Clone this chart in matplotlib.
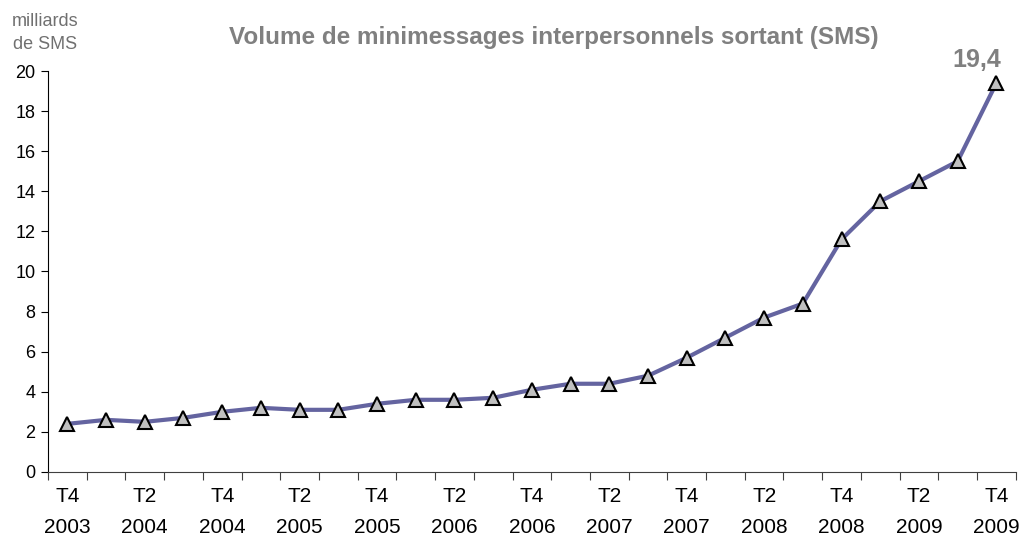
import matplotlib.pyplot as plt
import numpy as np

plt.rcParams['font.family'] = ['Liberation Sans', 'DejaVu Sans']

# quarters T4 2003 .. T4 2009
quarters = ['T4\n2003', 'T1\n2004', 'T2\n2004', 'T3\n2004', 'T4\n2004',
            'T1\n2005', 'T2\n2005', 'T3\n2005', 'T4\n2005',
            'T1\n2006', 'T2\n2006', 'T3\n2006', 'T4\n2006',
            'T1\n2007', 'T2\n2007', 'T3\n2007', 'T4\n2007',
            'T1\n2008', 'T2\n2008', 'T3\n2008', 'T4\n2008',
            'T1\n2009', 'T2\n2009', 'T3\n2009', 'T4\n2009']
sms = [2.4, 2.6, 2.5, 2.7, 3.0, 3.2, 3.1, 3.1, 3.4, 3.6, 3.6, 3.7, 4.1,
       4.4, 4.4, 4.8, 5.7, 6.7, 7.7, 8.4, 11.6, 13.5, 14.5, 15.5, 19.4]
last_label = '19,4'

fig = plt.figure(figsize=(10.26, 5.42), dpi=100)
ax = fig.add_axes([0.0468, 0.1292, 0.9432, 0.7398])

x = np.arange(len(sms))
ax.plot(x, sms, color='#6464a0', lw=3, marker='^', markersize=10,
        markerfacecolor='#c0c0c0', markeredgecolor='black', markeredgewidth=1.5,
        zorder=3, clip_on=False)

ax.set_xlim(-0.5, len(sms) - 0.5)
ax.set_ylim(0, 20)
ax.set_yticks(range(0, 21, 2))
ax.tick_params(axis='y', labelsize=13, length=5, direction='out', pad=4)

# boundaries as major ticks, labels on every other category as minor ticks
ax.set_xticks(np.arange(-0.5, len(sms), 1))
ax.set_xticklabels([])
ax.tick_params(axis='x', which='major', length=6, direction='out', color='#404040')
ax.set_xticks(x[::2], minor=True)
ax.set_xticklabels(quarters[::2], minor=True, fontsize=15, linespacing=1.75)
ax.tick_params(axis='x', which='minor', length=0, pad=11)

for s in ['top', 'right']:
    ax.spines[s].set_visible(False)
ax.spines['bottom'].set_color('#404040')

fig.text(0.540, 0.931, 'Volume de minimessages interpersonnels sortant (SMS)',
         ha='center', va='center', fontsize=17.5, fontweight='bold', color='#808080')
fig.text(0.044, 0.939, 'milliards\nde SMS', ha='center', va='center',
         fontsize=13, color='#707070', linespacing=1.5)
ax.annotate(last_label, (x[-1], sms[-1]), xytext=(-14, 8), textcoords='offset points',
            ha='center', va='bottom', fontsize=18, fontweight='bold', color='#808080')

fig.savefig('out.png', dpi=100)
